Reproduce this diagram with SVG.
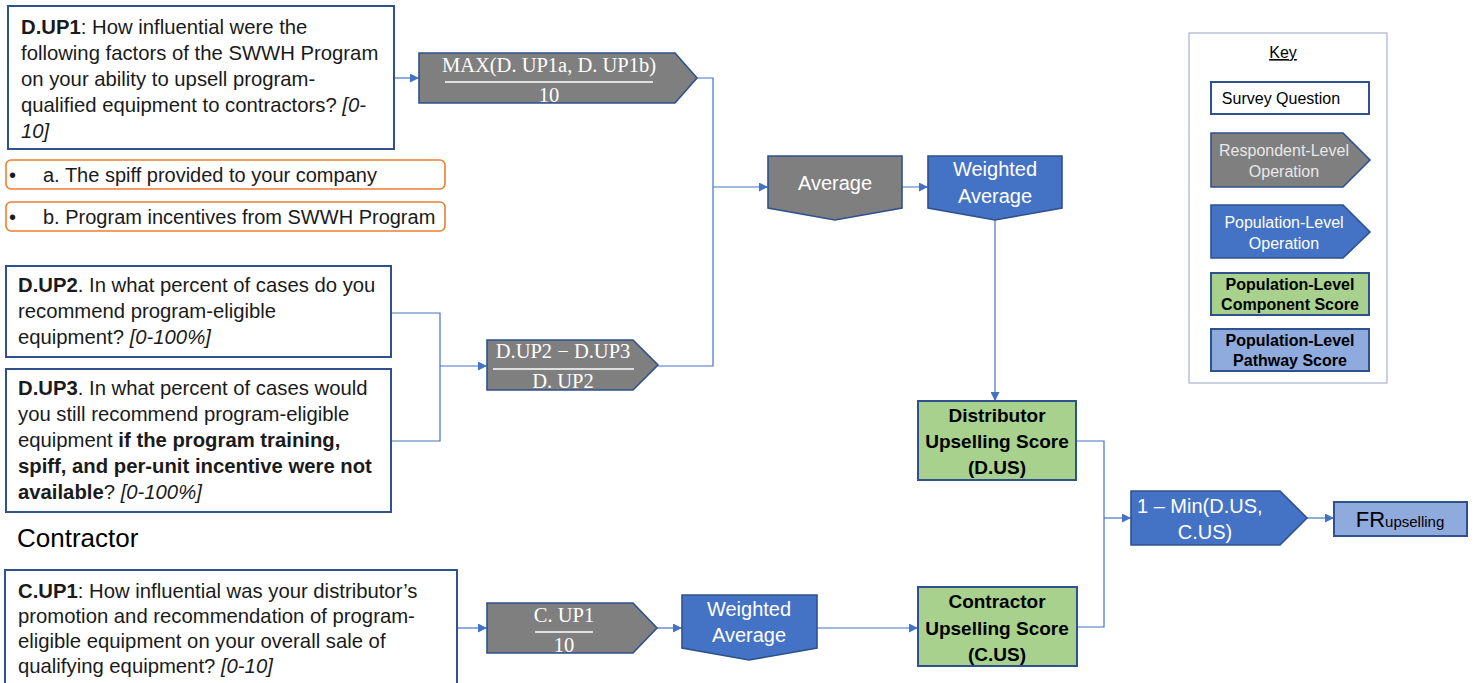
<svg xmlns="http://www.w3.org/2000/svg" width="1476" height="683" viewBox="0 0 1476 683">
<defs>
<marker id="ah" viewBox="0 0 10 10" refX="10" refY="5" markerWidth="9" markerHeight="9" markerUnits="userSpaceOnUse" orient="auto">
<path d="M0,0 L10,5 L0,10 z" fill="#4472c4"/>
</marker>
<style>
.q{fill:#fff;stroke:#2f528f;stroke-width:2}
.opt{fill:#fff;stroke:#ed7d31;stroke-width:1.6}
.gr{fill:#7f7f7f;stroke:#2f528f;stroke-width:1.6}
.bl{fill:#4472c4;stroke:#2f528f;stroke-width:1.6}
.gn{fill:#a9d18e;stroke:#2f528f;stroke-width:2}
.pw{fill:#8faadc;stroke:#2f528f;stroke-width:2}
.t{font-family:"Liberation Sans",Arial,sans-serif;font-size:20.3px;fill:#1a1a1a}
.o{font-size:20px}
.b{font-weight:bold}
.i{font-style:italic}
.w{font-family:"Liberation Sans",Arial,sans-serif;font-size:20px;fill:#fff}
.m{font-family:"Liberation Serif","Times New Roman",serif;font-size:20.5px;fill:#fff}
.s{font-family:"Liberation Sans",Arial,sans-serif;font-size:19px;fill:#000;text-anchor:middle}
.k{font-family:"Liberation Sans",Arial,sans-serif;font-size:16px;text-anchor:middle}
.c{fill:none;stroke:#4472c4;stroke-width:1.2}
</style>
</defs>

<g id="connectors">
<path class="c" d="M394,78 H419" marker-end="url(#ah)"/>
<path class="c" d="M697,78 H713 V366 H658"/>
<path class="c" d="M713,187 H768" marker-end="url(#ah)"/>
<path class="c" d="M894,187 H928" marker-end="url(#ah)"/>
<path class="c" d="M995,220 V401" marker-end="url(#ah)"/>
<path class="c" d="M391,313 H440 V441 H391"/>
<path class="c" d="M440,366 H487" marker-end="url(#ah)"/>
<path class="c" d="M457,628 H487" marker-end="url(#ah)"/>
<path class="c" d="M657,628 H682" marker-end="url(#ah)"/>
<path class="c" d="M817,628 H918" marker-end="url(#ah)"/>
<path class="c" d="M1077,441 H1104 V627 H1077"/>
<path class="c" d="M1104,518 H1131" marker-end="url(#ah)"/>
<path class="c" d="M1307,518 H1334" marker-end="url(#ah)"/>
</g>

<g id="dup1">
<rect class="q" x="8" y="6" width="386" height="143"/>
<text class="t" x="21" y="34"><tspan class="b">D.UP1</tspan>: How influential were the</text>
<text class="t" x="21" y="60">following factors of the SWWH Program</text>
<text class="t" x="21" y="86">on your ability to upsell program-</text>
<text class="t" x="21" y="112">qualified equipment to contractors? <tspan class="i">[0-</tspan></text>
<text class="t i" x="21" y="138">10]</text>
</g>

<g id="opt-a">
<rect class="opt" x="6" y="160" width="439" height="29" rx="5"/>
<text class="t o" x="9" y="182">•</text>
<text class="t o" x="43" y="182">a. The spiff provided to your company</text>
</g>
<g id="opt-b">
<rect class="opt" x="6" y="202" width="439" height="29" rx="5"/>
<text class="t o" x="9" y="224">•</text>
<text class="t o" x="43" y="224">b. Program incentives from SWWH Program</text>
</g>

<g id="max-op">
<path class="gr" d="M419,53 H675 L697,78 L675,103 H419 Z"/>
<text class="m" x="549" y="72" text-anchor="middle">MAX(D. UP1a, D. UP1b)</text>
<line x1="445" y1="82" x2="653" y2="82" stroke="#fff" stroke-width="1.5"/>
<text class="m" x="549" y="102" text-anchor="middle">10</text>
</g>

<g id="average">
<path class="gr" d="M768,156 H902 V208 L835,220 L768,208 Z"/>
<text class="w" x="835" y="190" text-anchor="middle">Average</text>
</g>

<g id="wavg1">
<path class="bl" d="M928,156 H1062 V208 L995,220 L928,208 Z"/>
<text class="w" x="995" y="176" text-anchor="middle">Weighted</text>
<text class="w" x="995" y="203" text-anchor="middle">Average</text>
</g>

<g id="dup2">
<rect class="q" x="6" y="266" width="385" height="91"/>
<text class="t" x="18" y="292"><tspan class="b">D.UP2</tspan>. In what percent of cases do you</text>
<text class="t" x="18" y="318">recommend program-eligible</text>
<text class="t" x="18" y="344">equipment? <tspan class="i">[0-100%]</tspan></text>
</g>

<g id="dup3">
<rect class="q" x="6" y="369" width="385" height="143"/>
<text class="t" x="18" y="395"><tspan class="b">D.UP3</tspan>. In what percent of cases would</text>
<text class="t" x="18" y="421">you still recommend program-eligible</text>
<text class="t" x="18" y="447">equipment <tspan class="b">if the program training,</tspan></text>
<text class="t b" x="18" y="473">spiff, and per-unit incentive were not</text>
<text class="t" x="18" y="499"><tspan class="b">available</tspan>? <tspan class="i">[0-100%]</tspan></text>
</g>

<g id="frac2">
<path class="gr" d="M487,340 H633 L658,365 L633,390 H487 Z"/>
<text class="m" x="563" y="358" text-anchor="middle">D.UP2 − D.UP3</text>
<line x1="493" y1="369" x2="634" y2="369" stroke="#fff" stroke-width="1.5"/>
<text class="m" x="563" y="388" text-anchor="middle">D. UP2</text>
</g>

<g id="contractor-label">
<text x="17" y="547" font-family="'Liberation Sans',Arial,sans-serif" font-size="26" fill="#000">Contractor</text>
</g>

<g id="cup1">
<rect class="q" x="5" y="570" width="452" height="120"/>
<text class="t" x="18" y="598"><tspan class="b">C.UP1</tspan>: How influential was your distributor’s</text>
<text class="t" x="18" y="623">promotion and recommendation of program-</text>
<text class="t" x="18" y="648">eligible equipment on your overall sale of</text>
<text class="t" x="18" y="673">qualifying equipment? <tspan class="i">[0-10]</tspan></text>
</g>

<g id="frac3">
<path class="gr" d="M487,603 H633 L657,628 L633,653 H487 Z"/>
<text class="m" x="564" y="622" text-anchor="middle">C. UP1</text>
<line x1="535" y1="632" x2="593" y2="632" stroke="#fff" stroke-width="1.5"/>
<text class="m" x="564" y="652" text-anchor="middle">10</text>
</g>

<g id="wavg2">
<path class="bl" d="M682,595 H817 V648 L749,660 L682,648 Z"/>
<text class="w" x="749" y="616" text-anchor="middle">Weighted</text>
<text class="w" x="749" y="642" text-anchor="middle">Average</text>
</g>

<g id="dus">
<rect class="gn" x="918" y="401" width="158" height="79"/>
<text class="s b" x="997" y="422">Distributor</text>
<text class="s b" x="997" y="448">Upselling Score</text>
<text class="s b" x="997" y="474">(D.US)</text>
</g>

<g id="cus">
<rect class="gn" x="918" y="587" width="159" height="79"/>
<text class="s b" x="997" y="608">Contractor</text>
<text class="s b" x="997" y="635">Upselling Score</text>
<text class="s b" x="997" y="661">(C.US)</text>
</g>

<g id="minop">
<path class="bl" d="M1131,491 H1280 L1307,518 L1280,545 H1131 Z"/>
<text class="w" x="1137" y="513">1 – Min(D.US,</text>
<text class="w" x="1205" y="539" text-anchor="middle">C.US)</text>
</g>

<g id="fr">
<rect class="pw" x="1334" y="502" width="133" height="34"/>
<text x="1400" y="527" text-anchor="middle" font-family="'Liberation Sans',Arial,sans-serif" font-size="22" fill="#000">FR<tspan font-size="15">upselling</tspan></text>
</g>

<g id="key">
<rect x="1189" y="33" width="198" height="350" fill="#fff" stroke="#a6b4c8" stroke-width="1.2"/>
<text class="k" x="1283" y="58" fill="#000" text-decoration="underline" font-size="18">Key</text>
<rect class="q" x="1211" y="82" width="158" height="32"/>
<text class="k" x="1281" y="104" fill="#000">Survey Question</text>
<path class="gr" d="M1211,133 H1343 L1370,160 L1343,187 H1211 Z"/>
<text class="k" x="1284" y="156" fill="#e8e8e8">Respondent-Level</text>
<text class="k" x="1284" y="177" fill="#e8e8e8">Operation</text>
<path class="bl" d="M1211,205 H1343 L1370,232 L1343,258 H1211 Z"/>
<text class="k" x="1284" y="228" fill="#fff">Population-Level</text>
<text class="k" x="1284" y="249" fill="#fff">Operation</text>
<rect class="gn" x="1211" y="273" width="158" height="42"/>
<text class="k b" x="1290" y="290" fill="#000" font-size="14">Population-Level</text>
<text class="k b" x="1290" y="310" fill="#000" font-size="14">Component Score</text>
<rect class="pw" x="1211" y="329" width="158" height="42"/>
<text class="k b" x="1290" y="346" fill="#000" font-size="14">Population-Level</text>
<text class="k b" x="1290" y="366" fill="#000" font-size="14">Pathway Score</text>
</g>
</svg>
